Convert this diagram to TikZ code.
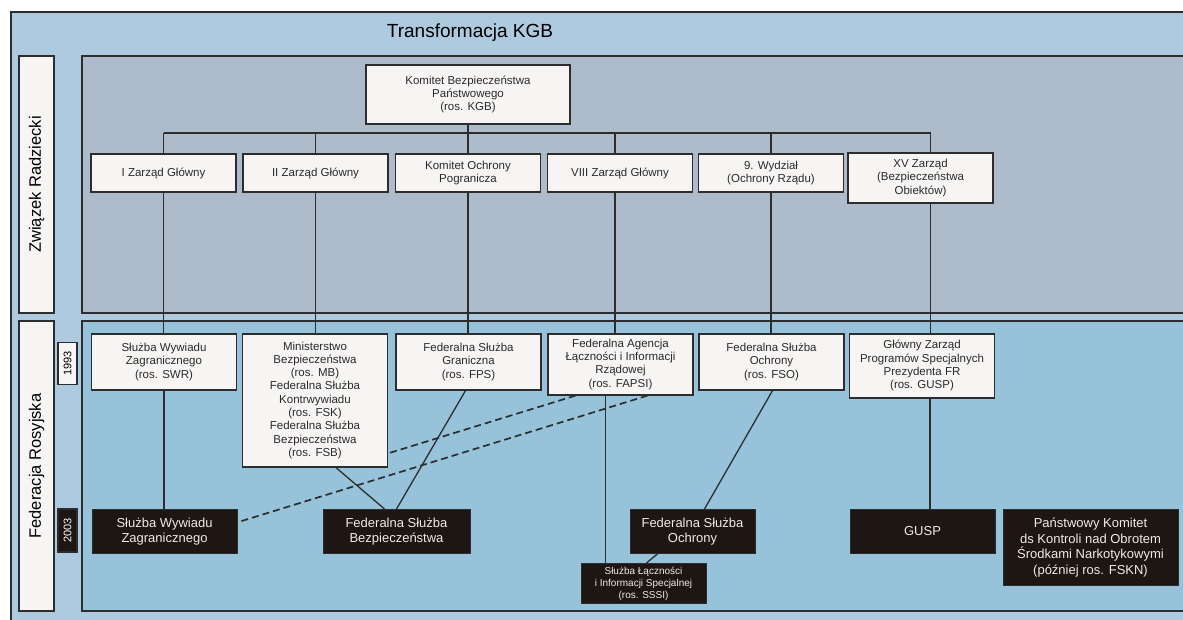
\documentclass[tikz,border=0pt]{standalone}
\usepackage{fontspec}
\setmainfont{Liberation Sans}
\usetikzlibrary{calc}

\definecolor{outerblue}{HTML}{ADCADF}
\definecolor{panelgray}{HTML}{AEBBCA}
\definecolor{panelblue}{HTML}{97C3DA}
\definecolor{boxwhite}{HTML}{F7F5F4}
\definecolor{boxdark}{HTML}{1E1613}
\definecolor{frameline}{HTML}{2D2D2D}
\definecolor{inktext}{HTML}{2A2A2A}
\definecolor{lighttext}{HTML}{F2EAE4}

\tikzset{
  orgbox/.style={draw=frameline, line width=1.6pt, fill=boxwhite, text=inktext, align=center,
    inner sep=0pt, minimum width=145pt, font=\fontsize{11.5}{13.3}\selectfont},
  darkbox/.style={draw=frameline, line width=0.8pt, fill=boxdark, text=lighttext, align=center,
    inner sep=0pt, minimum width=145pt, minimum height=44pt, anchor=north, font=\fontsize{13}{15.5}\selectfont},
  sidebox/.style={draw=frameline, line width=1.6pt, fill=boxwhite, rotate=90, inner sep=0pt,
    minimum height=35pt, font=\fontsize{16.5}{19}\selectfont},
  yearbox/.style={draw=frameline, line width=1.3pt, rotate=90, inner sep=0pt,
    minimum width=42pt, minimum height=19pt, font=\fontsize{11}{13}\selectfont},
  link/.style={draw=frameline, line width=1.3pt},
  dashlink/.style={link, line width=1.7pt, dash pattern=on 7pt off 4pt}
}

\begin{document}
\begin{tikzpicture}[x=1pt,y=-1pt]
\useasboundingbox (0,0) rectangle (1183,619);

\draw [frameline, line width=1.8pt, fill=outerblue] (11,12) rectangle (1230,660);
\draw [frameline, line width=1.5pt, fill=panelgray] (82,56) rectangle (1230,313);
\draw [frameline, line width=1.5pt, fill=panelblue] (82,321) rectangle (1230,611);

\node [font=\fontsize{19}{22}\selectfont] (title) at (470,33) {Transformacja KGB};

\node [sidebox, minimum width=257pt] (zsrr) at (36.5,184.5) {Związek Radziecki};
\node [sidebox, minimum width=290pt] (fedros) at (36.5,466) {Federacja Rosyjska};
\node [yearbox, fill=boxwhite, text=black] (y1993) at (67.5,363.5) {1993};
\node [yearbox, fill=boxdark, text=white, minimum width=43pt] (y2003) at (67.5,530.5) {2003};

\node [orgbox, minimum width=204pt, minimum height=59pt] (kgb) at (468,94.5)
  {Komitet Bezpieczeństwa\\Państwowego\\(ros. KGB)};
\coordinate (bus) at (468,133);

\node [orgbox, minimum height=38pt] (zg1) at (163.5,173) {I Zarząd Główny};
\node [orgbox, minimum height=38pt] (zg2) at (315.5,173) {II Zarząd Główny};
\node [orgbox, minimum height=38pt] (kop) at (468,173) {Komitet Ochrony\\Pogranicza};
\node [orgbox, minimum height=38pt] (zg8) at (620,173) {VIII Zarząd Główny};
\node [orgbox, minimum height=38pt] (wydz9) at (771,173) {9. Wydział\\(Ochrony Rządu)};
\node [orgbox, minimum height=50pt] (zarz15) at (920.5,178) {XV Zarząd\\(Bezpieczeństwa\\Obiektów)};

\node [orgbox, anchor=north, minimum height=56pt] (swr) at (164,333)
  {Służba Wywiadu\\Zagranicznego\\(ros. SWR)};
\node [orgbox, anchor=north, minimum height=133pt] (mb) at (315,333)
  {Ministerstwo\\Bezpieczeństwa\\(ros. MB)\\Federalna Służba\\Kontrwywiadu\\(ros. FSK)\\Federalna Służba\\Bezpieczeństwa\\(ros. FSB)};
\node [orgbox, anchor=north, minimum height=56pt] (fps) at (468.5,333)
  {Federalna Służba\\Graniczna\\(ros. FPS)};
\node [orgbox, anchor=north, minimum height=61pt] (fapsi) at (620.5,333)
  {Federalna Agencja\\Łączności i Informacji\\Rządowej\\(ros. FAPSI)};
\node [orgbox, anchor=north, minimum height=56pt] (fso) at (771.5,333)
  {Federalna Służba\\Ochrony\\(ros. FSO)};
\node [orgbox, anchor=north, minimum height=64pt] (gusp) at (922,333)
  {Główny Zarząd\\Programów Specjalnych\\Prezydenta FR\\(ros. GUSP)};

\node [darkbox] (swz) at (164.5,509) {Służba Wywiadu\\Zagranicznego};
\node [darkbox, minimum width=147pt] (fsb) at (396.5,509) {Federalna Służba\\Bezpieczeństwa};
\node [darkbox, minimum width=125pt] (fsod) at (692.5,509) {Federalna Służba\\Ochrony};
\node [darkbox] (guspd) at (922.5,509) {GUSP};
\node [darkbox, minimum width=175pt, minimum height=76pt] (fskn) at (1090.5,509)
  {Państwowy Komitet\\ds Kontroli nad Obrotem\\Środkami Narkotykowymi\\(później ros. FSKN)};
\node [darkbox, minimum width=125pt, minimum height=40pt, font=\fontsize{10}{12}\selectfont] (sssi) at (643.5,563)
  {Służba Łączności\\i Informacji Specjalnej\\(ros. SSSI)};

\draw [link] (kgb.south) -- (bus);
\draw [link] (zg1.north |- bus) -- ([xshift=10pt]zarz15.north |- bus);
\foreach \n in {zg1,zg2,kop,wydz9}
  \draw [link] (\n.north) -- (\n.north |- bus);
\draw [link] ([xshift=-5pt]zg8.north) -- ([xshift=-5pt]zg8.north |- bus);
\draw [link] ([xshift=10pt]zarz15.north) -- ([xshift=10pt]zarz15.north |- bus);

\draw [link] (zg1.south) -- (zg1.south |- swr.north);
\draw [link] (zg2.south) -- (zg2.south |- mb.north);
\draw [link] (kop.south) -- (kop.south |- fps.north);
\draw [link] ([xshift=-5pt]zg8.south) -- ([xshift=-5pt]zg8.south |- fapsi.north);
\draw [link] (wydz9.south) -- (wydz9.south |- fso.north);
\draw [link] ([xshift=10pt]zarz15.south) -- ([xshift=10pt]zarz15.south |- gusp.north);

\draw [link] (swr.south) -- (swr.south |- swz.north);
\draw [link] ([xshift=21pt]mb.south) -- ([xshift=-12pt]fsb.north);
\draw [link] ([xshift=-3pt]fps.south) -- (fsb.north);
\draw [link] ([xshift=-15pt]fapsi.south) -- ([xshift=-15pt]fapsi.south |- sssi.north);
\draw [link] ([xshift=1pt]fso.south) -- ([xshift=12pt]fsod.north);
\draw [link] ([xshift=-35pt]fsod.south) -- ([xshift=3pt]sssi.north);
\draw [link] ([xshift=8pt]gusp.south) -- ([xshift=8pt]gusp.south |- guspd.north);

\draw [dashlink] ([xshift=-45pt]fapsi.south) -- ($(mb.east)+(0,53)$);
\draw [dashlink] ([xshift=27pt]fapsi.south) -- ($(swz.east)+(3,-10)$);
\end{tikzpicture}
\end{document}
